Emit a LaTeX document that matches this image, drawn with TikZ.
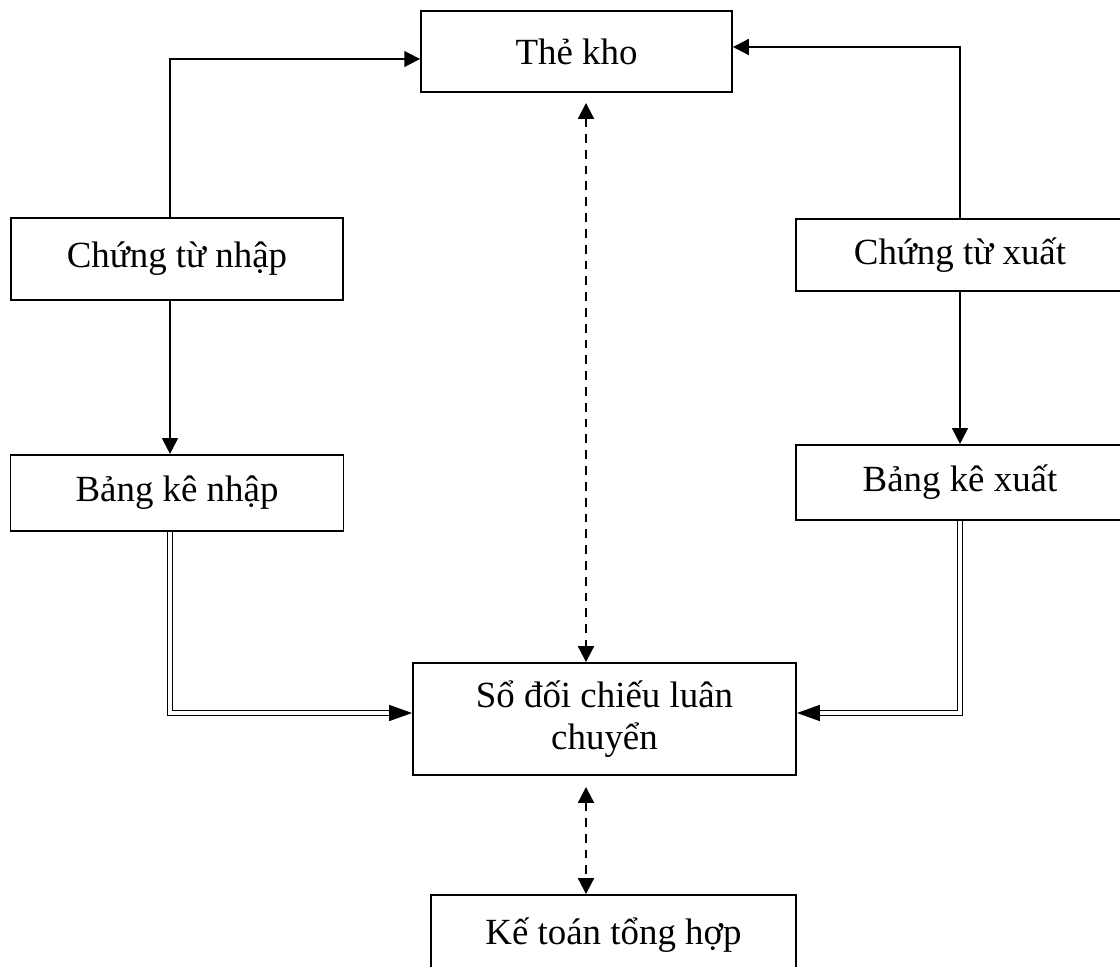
\documentclass[tikz,border=0pt]{standalone}
\usepackage{fontspec}
\setmainfont{Liberation Serif}
\usetikzlibrary{positioning}
\usetikzlibrary{arrows.meta}

\begin{document}
\begin{tikzpicture}[x=0.02cm, y=-0.02cm,
	block/.style={draw, rectangle, line width=1.1pt, inner sep=0pt, align=center, font=\fontsize{21}{24}\selectfont},
	link/.style={line width=1.1pt, -{Triangle[length=9pt, width=9pt]}},
	dlink/.style={line width=1.2pt, dash pattern=on 5pt off 4pt, {Triangle[length=9pt, width=9pt]}-{Triangle[length=9pt, width=9pt]}},
	twin/.style={double, double distance=1.8pt, line width=1pt, -{Triangle[length=13pt, width=9pt]}}]
	\useasboundingbox (0,0) rectangle (1120,967);
	% o chinh
	\node (kho) [block, minimum width=6.22cm, minimum height=1.62cm] at (576.5,51.5) {Thẻ kho}
	node (ctn)  [block, minimum width=6.64cm, minimum height=1.64cm] at (177,259) {Chứng từ nhập}
	node (bkn)  [block, minimum width=6.66cm, minimum height=1.52cm, below=3.06cm of ctn] {Bảng kê nhập}
	node (ctx)  [block, minimum width=6.56cm, minimum height=1.44cm] at (960,255) {Chứng từ xuất}
	node (bkx)  [block, minimum width=6.56cm, minimum height=1.5cm, below=3.04cm of ctx] {Bảng kê xuất}
	node (sdc)  [block, minimum width=7.66cm, minimum height=2.24cm] at (604.5,719) {Sổ đối chiếu luân\\chuyển}
	node (ktth) [block, minimum width=7.3cm, minimum height=1.6cm] at (613.5,935) {Kế toán tổng hợp};
	% cot va hang cua duong noi
	\coordinate (colL) at (170,0);
	\coordinate (colR) at (960,0);
	\coordinate (colM) at (586,0);
	\coordinate (rowL) at (0,59);
	\coordinate (rowR) at (0,47);
	\coordinate (rowD) at (0,713);
	\draw[link] (ctn.north -| colL) |- (kho.west |- rowL);
	\draw[link] (ctx.north -| colR) |- (kho.east |- rowR);
	\draw[link] (ctn.south -| colL) -- (bkn.north -| colL);
	\draw[link] (ctx.south -| colR) -- (bkx.north -| colR);
	\draw[twin] (bkn.south -| colL) |- (sdc.west |- rowD);
	\draw[twin] (bkx.south -| colR) |- (sdc.east |- rowD);
	\draw[dlink, shorten <=0.2cm] (kho.south -| colM) -- (sdc.north -| colM);
	\draw[dlink, shorten <=0.22cm] (sdc.south -| colM) -- (ktth.north -| colM);
\end{tikzpicture}
\end{document}
